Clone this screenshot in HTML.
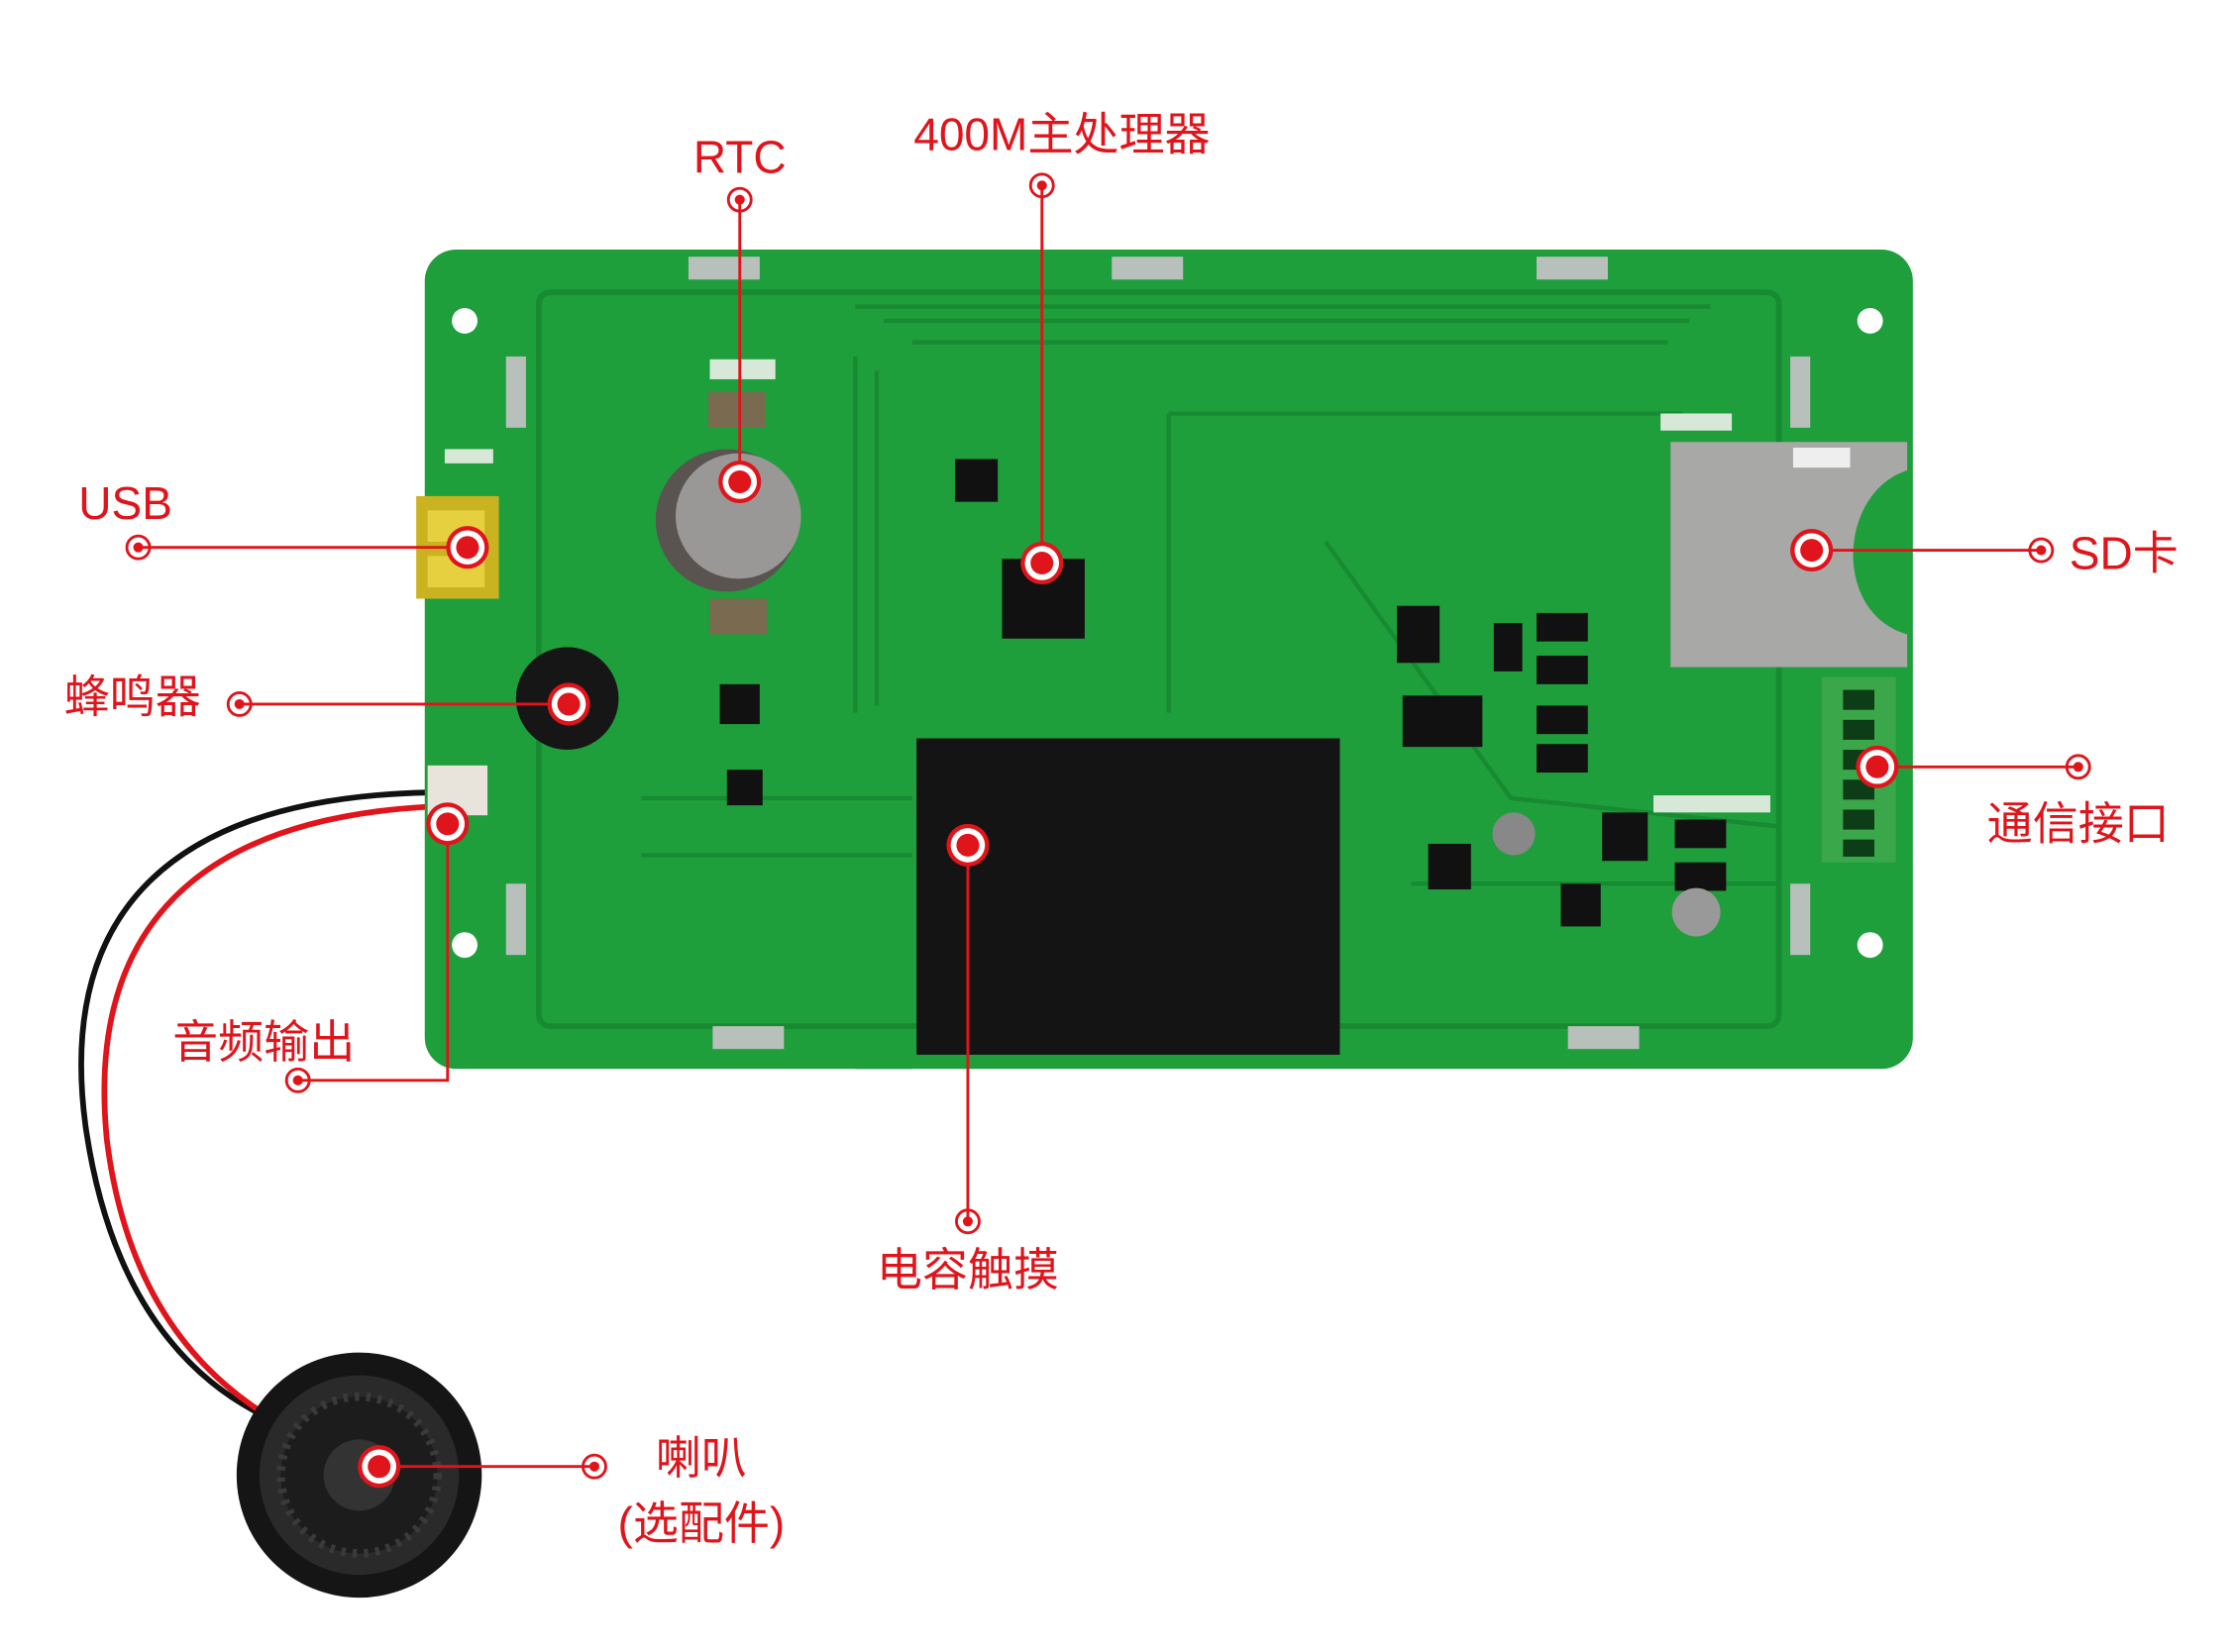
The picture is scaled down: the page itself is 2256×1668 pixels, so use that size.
<!DOCTYPE html>
<html><head><meta charset="utf-8"><style>
html,body{margin:0;padding:0;background:#fff;}
svg{display:block;}
text{font-family:"Liberation Sans","Noto Sans CJK SC",sans-serif;}
</style></head><body>
<svg width="2256" height="1668" viewBox="0 0 1568 1159" xmlns="http://www.w3.org/2000/svg">
<defs>
<g id="big"><circle r="15" fill="#e0141b"/><circle r="12" fill="#fff"/><circle r="8" fill="#e0141b"/></g>
<g id="sm"><circle r="8" fill="none" stroke="#e0141b" stroke-width="2"/><circle r="3.5" fill="#e0141b"/></g>
</defs>
<rect width="1568" height="1159" fill="#fff"/>
<!-- speaker wires -->
<path d="M300,556 C120,560 40,640 60,790 C80,930 150,980 200,1000" fill="none" stroke="#111" stroke-width="4"/>
<path d="M300,566 C140,575 60,650 75,800 C90,920 150,970 190,995" fill="none" stroke="#e0141b" stroke-width="4"/>
<!-- speaker -->
<circle cx="252" cy="1035" r="86" fill="#151515"/>
<circle cx="252" cy="1035" r="70" fill="#2a2a2a"/>
<circle cx="252" cy="1035" r="55" fill="#1c1c1c" stroke="#3a3a3a" stroke-width="6" stroke-dasharray="3 5"/>
<circle cx="252" cy="1035" r="25" fill="#333"/>
<!-- board -->
<rect x="298" y="175" width="1044" height="575" rx="22" fill="#1f9e3c"/>
<rect x="378" y="205" width="870" height="515" rx="8" fill="none" stroke="#178a32" stroke-width="4"/>
<path d="M600,215 L1200,215 M620,225 L1185,225 M640,240 L1170,240 M600,250 L600,500 M615,260 L615,495 M820,290 L1180,290 M820,290 L820,500 M930,380 L1060,560 L1250,580 M450,560 L640,560 M450,600 L640,600 M990,620 L1250,620" stroke="#178a32" stroke-width="3" fill="none"/>
<!-- mounting holes -->
<g fill="#fff"><circle cx="326" cy="225" r="9"/><circle cx="1312" cy="225" r="9"/><circle cx="326" cy="663" r="9"/><circle cx="1312" cy="663" r="9"/></g>
<!-- clips -->
<g fill="#b8c0bc"><rect x="483" y="180" width="50" height="16"/><rect x="780" y="180" width="50" height="16"/><rect x="1078" y="180" width="50" height="16"/><rect x="500" y="720" width="50" height="16"/><rect x="1100" y="720" width="50" height="16"/><rect x="355" y="250" width="14" height="50"/><rect x="355" y="620" width="14" height="50"/><rect x="1256" y="250" width="14" height="50"/><rect x="1256" y="620" width="14" height="50"/></g>
<!-- touch panel -->
<rect x="643" y="518" width="297" height="222" fill="#141414"/>
<rect x="600" y="740" width="40" height="10" fill="#1f9e3c"/>
<!-- SD card -->
<rect x="1172" y="310" width="166" height="158" fill="#a8a8a6"/>
<path d="M1338,330 C1290,345 1285,430 1338,445 Z" fill="#1f9e3c"/>
<rect x="1258" y="314" width="40" height="14" fill="#eee"/>
<rect x="1165" y="290" width="50" height="12" fill="#d8e8d8"/>
<!-- terminal block -->
<rect x="1278" y="475" width="52" height="130" fill="#3aa84a"/>
<g fill="#0d3d16"><rect x="1293" y="484" width="22" height="14"/><rect x="1293" y="505" width="22" height="14"/><rect x="1293" y="526" width="22" height="14"/><rect x="1293" y="547" width="22" height="14"/><rect x="1293" y="568" width="22" height="14"/><rect x="1293" y="589" width="22" height="12"/></g>
<!-- battery -->
<rect x="497" y="275" width="40" height="25" fill="#7a6a50"/>
<rect x="498" y="420" width="40" height="25" fill="#7a6a50"/>
<circle cx="510" cy="365" r="50" fill="#5a5450"/>
<circle cx="518" cy="362" r="44" fill="#9a9896"/>
<rect x="498" y="252" width="46" height="14" fill="#d8e8d8"/>
<!-- USB -->
<rect x="292" y="348" width="58" height="72" fill="#c9b320"/>
<rect x="300" y="358" width="40" height="22" fill="#e6d040"/>
<rect x="300" y="390" width="40" height="22" fill="#e6d040"/>
<rect x="312" y="315" width="34" height="10" fill="#d8e8d8"/>
<!-- buzzer -->
<circle cx="398" cy="490" r="36" fill="#161616"/>
<!-- chips -->
<g fill="#111"><rect x="703" y="392" width="58" height="56"/><rect x="670" y="322" width="30" height="30"/><rect x="980" y="425" width="30" height="40"/><rect x="984" y="488" width="56" height="36"/><rect x="505" y="480" width="28" height="28"/><rect x="510" y="540" width="25" height="25"/><rect x="1002" y="592" width="30" height="32"/><rect x="1124" y="570" width="32" height="34"/><rect x="1095" y="620" width="28" height="30"/><rect x="1048" y="437" width="20" height="34"/><rect x="1078" y="430" width="36" height="20"/><rect x="1078" y="460" width="36" height="20"/><rect x="1078" y="495" width="36" height="20"/><rect x="1078" y="522" width="36" height="20"/><rect x="1175" y="575" width="36" height="20"/><rect x="1175" y="605" width="36" height="20"/></g>
<circle cx="1062" cy="585" r="15" fill="#888"/><circle cx="1190" cy="640" r="17" fill="#999"/>
<rect x="1160" y="558" width="82" height="12" fill="#d8e8d8"/>
<!-- connector J1 -->
<rect x="300" y="537" width="42" height="35" fill="#e8e4dc"/>
<!-- callouts -->
<g stroke="#e0141b" stroke-width="2" fill="none">
<path d="M519,140 V338"/><path d="M731,130 V395"/><path d="M97,384 H328"/><path d="M168,494 H399"/>
<path d="M209,758 H314 V578"/><path d="M679,857 V593"/><path d="M417,1029 H266"/>
<path d="M1271,386 H1432"/><path d="M1317,538 H1458"/>
</g>
<use href="#sm" x="519" y="140"/><use href="#big" x="519" y="338"/>
<use href="#sm" x="731" y="130"/><use href="#big" x="731" y="395"/>
<use href="#sm" x="97" y="384"/><use href="#big" x="328" y="384"/>
<use href="#sm" x="168" y="494"/><use href="#big" x="399" y="494"/>
<use href="#sm" x="209" y="758"/><use href="#big" x="314" y="578"/>
<use href="#sm" x="679" y="857"/><use href="#big" x="679" y="593"/>
<use href="#sm" x="417" y="1029"/><use href="#big" x="266" y="1029"/>
<use href="#big" x="1271" y="386"/><use href="#sm" x="1432" y="386"/>
<use href="#big" x="1317" y="538"/><use href="#sm" x="1458" y="538"/>
<g fill="#e0141b" font-size="32">
<text x="519" y="121" text-anchor="middle">RTC</text>
<text x="745" y="105" text-anchor="middle">400M主处理器</text>
<text x="88" y="364" text-anchor="middle">USB</text>
<text x="93" y="500" text-anchor="middle">蜂鸣器</text>
<text x="185" y="742" text-anchor="middle">音频输出</text>
<text x="679" y="902" text-anchor="middle">电容触摸</text>
<text x="492" y="1034" text-anchor="middle">喇叭</text>
<text x="492" y="1080" text-anchor="middle">(选配件)</text>
<text x="1490" y="399" text-anchor="middle">SD卡</text>
<text x="1458" y="589" text-anchor="middle">通信接口</text>
</g>
</svg>
</body></html>
